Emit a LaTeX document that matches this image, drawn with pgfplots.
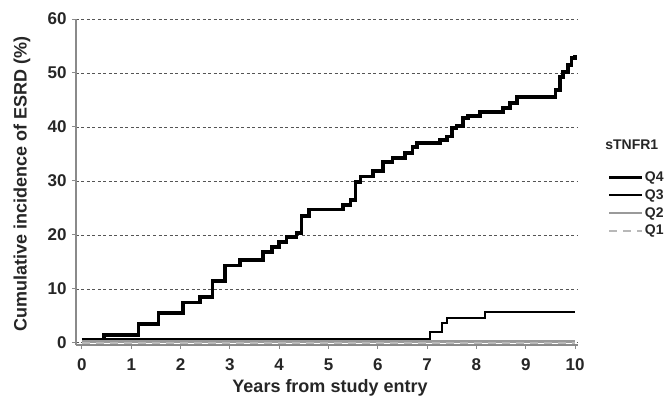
\documentclass[border=0pt]{standalone}
\usepackage{fontspec}
\setmainfont{Liberation Sans}
\usepackage{pgfplots}
\pgfplotsset{compat=1.18}

\definecolor{axisgray}{HTML}{8A8A8A}
\definecolor{gridgray}{HTML}{555555}
\definecolor{qtwo}{HTML}{9A9A9A}
\definecolor{qone}{HTML}{B8B8B8}

\begin{document}
\begin{tikzpicture}
\begin{axis}[
  scale only axis,
  width=502pt, height=326pt,
  xmin=-0.12, xmax=10.06,
  ymin=-0.4, ymax=60,
  axis x line*=bottom, axis y line*=left,
  axis line style={axisgray, line width=1.2pt, -},
  xtick={0,1,...,10}, ytick={0,10,...,60},
  tick align=outside, major tick length=4pt,
  tick style={axisgray, line width=1pt},
  ymajorgrids,
  major grid style={gridgray, line width=0.7pt, dash pattern=on 3pt off 2.5pt},
  /pgf/number format/assume math mode=true,
  tick label style={font=\fontsize{17}{17}\selectfont\bfseries, text=black!85},
  xticklabel style={yshift=-6pt},
  yticklabel style={xshift=-2pt},
  xlabel={Years from study entry},
  ylabel={Cumulative incidence of ESRD (\%)},
  label style={font=\fontsize{18}{18}\selectfont\bfseries, text=black!85},
  xlabel style={at={(axis description cs:0.506,-0.132)}, anchor=center},
  ylabel style={at={(axis description cs:-0.1076,0.494)}, anchor=center},
  legend style={draw=none, fill=none, at={(axis description cs:1.058,0.535)}, anchor=north west,
    font=\fontsize{14}{14}\selectfont\bfseries, row sep=4.5pt,
    inner sep=0pt, nodes={inner sep=1pt, text=black!85}},
  legend cell align=left,
  legend image code/.code={\draw[#1] (0pt,0pt) -- (33pt,0pt);},
  clip=false,
]
% Q4: highest quartile
\addplot[const plot, black, line width=3.6pt, line join=miter] coordinates {
  (0,0.5) (0.45,1.5) (1.15,3.5) (1.55,5.5) (2.05,7.5) (2.4,8.5) (2.65,11.5)
  (2.9,14.3) (3.2,15.3) (3.67,16.8) (3.85,17.8) (4.0,18.7) (4.15,19.6)
  (4.35,20.4) (4.45,23.5) (4.6,24.7) (5.3,25.5) (5.45,26.5) (5.55,29.8)
  (5.65,30.8) (5.9,31.8) (6.1,33.5) (6.3,34.3) (6.55,35.2) (6.7,36.3)
  (6.8,37.0) (7.26,37.6) (7.4,38.2) (7.5,39.8) (7.6,40.2) (7.73,41.7)
  (7.83,42.0) (8.07,42.8) (8.54,43.5) (8.68,44.4) (8.82,45.6) (9.6,46.9)
  (9.7,49.3) (9.76,50.2) (9.86,51.5) (9.93,52.8) (10.0,53.3)
};
\addlegendentry{Q4}
% Q3
\addplot[const plot, black, line width=1.6pt] coordinates {
  (0,0.7) (7.06,2.0) (7.3,3.7) (7.4,4.6) (8.17,5.7) (10.0,5.7)
};
\addlegendentry{Q3}
% Q2
\addplot[const plot, qtwo, line width=2.6pt] coordinates {
  (0,0.3) (10.0,0.3)
};
\addlegendentry{Q2}
% Q1
\addplot[const plot, qone, line width=2pt, dash pattern=on 8pt off 6pt] coordinates {
  (0,0) (10.0,0)
};
\addlegendentry{Q1}
\node[anchor=west, font=\fontsize{14}{14}\selectfont\bfseries, text=black!85, inner sep=0pt]
  at (axis description cs:1.054,0.614) {sTNFR1};
\end{axis}
\path (current axis.south west) ++(-76pt,-55pt) rectangle ++(669pt,400pt);
\end{tikzpicture}
\end{document}
